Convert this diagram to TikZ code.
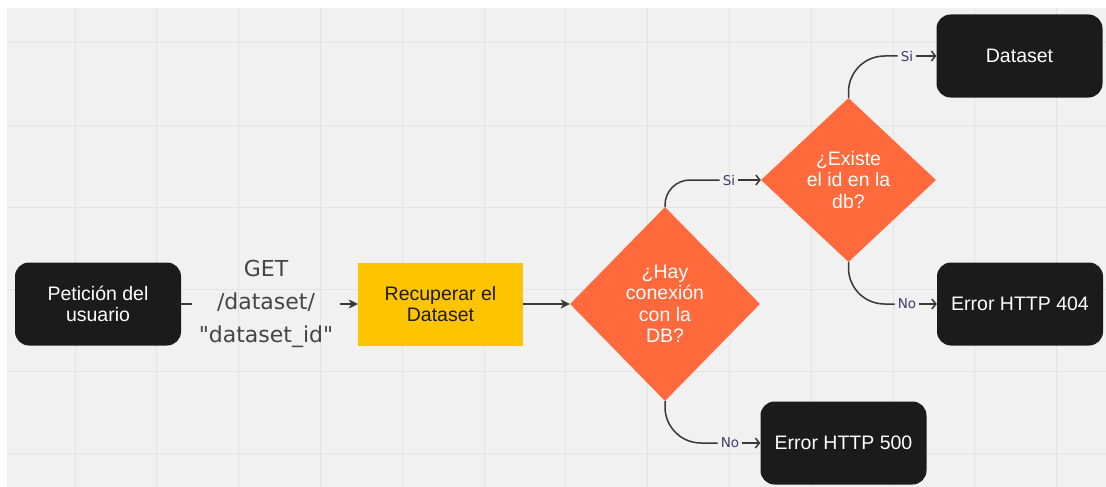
\documentclass[tikz,border=0pt]{standalone}
\usepackage{fontspec}
\setmainfont{Liberation Sans}
\newfontfamily\notefont{DejaVu Sans}
\usetikzlibrary{shapes.geometric,arrows.meta}

\definecolor{canvas}{HTML}{F1F1F1}
\definecolor{gridline}{HTML}{E3E3E3}
\definecolor{boxdark}{HTML}{1B1B1B}
\definecolor{amber}{HTML}{FFC400}
\definecolor{coral}{HTML}{FF693C}
\definecolor{wire}{HTML}{383838}
\definecolor{notegray}{HTML}{454545}
\definecolor{tagblue}{HTML}{3E3C6C}

\begin{document}
\begin{tikzpicture}[x=1pt,y=-1pt,
  boxtext/.style={font=\fontsize{19.5}{21.5}\selectfont, align=center},
  darkbox/.style={boxtext, rectangle, rounded corners=14pt, fill=boxdark, text=white,
    minimum width=166pt, minimum height=83pt, inner sep=0pt},
  taskbox/.style={boxtext, rectangle, fill=amber, text=boxdark,
    minimum width=165pt, minimum height=83pt, inner sep=0pt},
  decision/.style={boxtext, diamond, fill=coral, text=white, inner sep=0pt},
  pathnote/.style={font=\notefont\fontsize{22}{33}\selectfont, text=notegray, align=center, inner sep=0pt},
  tag/.style={font=\notefont\fontsize{13.5}{15}\selectfont, text=tagblue, inner sep=3pt},
  wirestyle/.style={draw=wire, line width=1.5pt},
  solidtip/.style={wirestyle, -{Stealth[length=9pt,width=9pt,inset=2.5pt]}},
  opentip/.style={wirestyle, -{Straight Barb[length=4pt,width=10pt]}},
  bend/.style={wirestyle, rounded corners=#1},
]
\useasboundingbox (0,0) rectangle (1106,487);
\fill[white] (0,0) rectangle (1106,487);
\fill[canvas] (7,8) rectangle (1106,487);
% background grid
\foreach \i in {0,...,12}
  \draw[gridline, line width=1pt] ({75+81.8*\i},8) -- ({75+81.8*\i},487);
\foreach \j in {0,...,5}
  \draw[gridline, line width=1pt] (7,{43+82*\j}) -- (1106,{43+82*\j});

% nodes
\node[darkbox] (req) at (98,304) {Petición del\\usuario};
\node[pathnote, minimum width=148pt] (get) at (266,304) {GET\\/dataset/\\"dataset\_id"};
\node[taskbox] (fetch) at (440.5,304) {Recuperar el\\Dataset};
\node[decision, minimum width=190pt, minimum height=194pt] (conn) at (665,304) {¿Hay\\conexión\\con la\\DB?};
\node[decision, minimum width=175pt, minimum height=164pt] (exists) at (848.5,180) {¿Existe\\el id en la\\db?};
\node[darkbox] (data) at (1019.5,56) {Dataset};
\node[darkbox] (e404) at (1020,304) {Error HTTP 404};
\node[darkbox] (e500) at (843.5,443) {Error HTTP 500};

% branch labels
\node[tag] (yes1) at (729,180) {Si};
\node[tag] (yes2) at (907,56) {Si};
\node[tag] (no1) at (907,304) {No};
\node[tag] (no2) at (730,443) {No};

% connectors
\draw[wirestyle] (req.east) -- (get.west);
\draw[solidtip] (get.east) -- (fetch.west);
\draw[solidtip] (fetch.east) -- (conn.west);

\draw[bend=25pt] (conn.north) |- (yes1.west);
\draw[opentip] (yes1.east) -- (exists.west);
\draw[bend=36pt] (conn.south) |- (no2.west);
\draw[opentip] (no2.east) -- (e500.west);

\draw[bend=36pt] (exists.north) |- (yes2.west);
\draw[opentip] (yes2.east) -- (data.west);
\draw[bend=36pt] (exists.south) |- (no1.west);
\draw[opentip] (no1.east) -- (e404.west);
\end{tikzpicture}
\end{document}
